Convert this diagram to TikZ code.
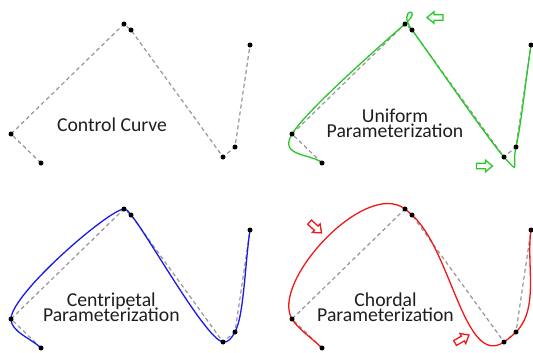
\documentclass[tikz,border=0pt]{standalone}
\usepackage{fontspec}
\setmainfont{Carlito}
\definecolor{cgreen}{RGB}{40,200,40}
\definecolor{cblue}{RGB}{25,25,235}
\definecolor{cred}{RGB}{240,25,25}
\definecolor{cgray}{RGB}{150,150,150}
\definecolor{ctext}{RGB}{30,30,30}
\newcommand\lblfont{\fontsize{19.7bp}{15bp}\selectfont\lineskiplimit-50pt\relax}
% control points (panel-relative, pixels), with reflected phantom end points
\def\PX{{71,41,11,124,131,223,235,250,265}}
\def\PY{{192,163,134,24,30,157,147,45,-57}}
\newcommand\panelpts[1]{%
  \foreach \k in {0,...,6}{%
    \pgfmathsetmacro\cx{\PX[\k+1]}%
    \pgfmathsetmacro\cy{\PY[\k+1]}%
    \coordinate (#1\k) at (\cx,\cy);}%
  \draw[ctrl] (#10) -- (#11) -- (#12) -- (#13) -- (#14) -- (#15) -- (#16);}
\newcommand\paneldots[1]{\foreach \k in {0,...,6}{\node[dot] (#1d\k) at (#1\k) {};}}
\newcommand\crcurve[2]{% #1 alpha, #2 style
  \foreach \i in {1,...,6}{%
    \pgfmathsetmacro\xa{\PX[\i-1]}\pgfmathsetmacro\ya{\PY[\i-1]}%
    \pgfmathsetmacro\xb{\PX[\i]}\pgfmathsetmacro\yb{\PY[\i]}%
    \pgfmathsetmacro\xc{\PX[\i+1]}\pgfmathsetmacro\yc{\PY[\i+1]}%
    \pgfmathsetmacro\xd{\PX[\i+2]}\pgfmathsetmacro\yd{\PY[\i+2]}%
    \pgfmathsetmacro\da{pow(veclen((\xb)-(\xa),(\yb)-(\ya)),#1)}%
    \pgfmathsetmacro\db{pow(veclen((\xc)-(\xb),(\yc)-(\yb)),#1)}%
    \pgfmathsetmacro\dc{pow(veclen((\xd)-(\xc),(\yd)-(\yc)),#1)}%
    \pgfmathsetmacro\ux{((\xb)-(\xa))/\da-((\xc)-(\xa))/(\da+\db)+((\xc)-(\xb))/\db}%
    \pgfmathsetmacro\uy{((\yb)-(\ya))/\da-((\yc)-(\ya))/(\da+\db)+((\yc)-(\yb))/\db}%
    \pgfmathsetmacro\vx{((\xc)-(\xb))/\db-((\xd)-(\xb))/(\db+\dc)+((\xd)-(\xc))/\dc}%
    \pgfmathsetmacro\vy{((\yc)-(\yb))/\db-((\yd)-(\yb))/(\db+\dc)+((\yd)-(\yc))/\dc}%
    \pgfmathsetmacro\bax{\xb+\ux*\db/3}\pgfmathsetmacro\bay{\yb+\uy*\db/3}%
    \pgfmathsetmacro\bbx{\xc-\vx*\db/3}\pgfmathsetmacro\bby{\yc-\vy*\db/3}%
    \draw[#2] (\xb,\yb) .. controls (\bax,\bay) and (\bbx,\bby) .. (\xc,\yc);}}
\newcommand\blockarrow[4]{%
  \draw[blockarrow, draw=#1, shift={(#2,#3)}, rotate=#4]
    (-8,-2.8) -- (1,-2.8) -- (1,-5.8) -- (8,0) -- (1,5.8) -- (1,2.8) -- (-8,2.8) -- cycle;}
\begin{document}
\begin{tikzpicture}[x=1bp,y=-1bp,
  ctrl/.style={draw=cgray, line width=1.2bp, dash pattern=on 4bp off 3bp},
  curve/.style={line width=1.3bp, line cap=round},
  dot/.style={circle, fill=black, inner sep=0pt, minimum size=5bp},
  lbl/.style={font={\lblfont}, text=ctext, inner sep=0pt, anchor=base, align=center},
  blockarrow/.style={line width=1.3bp, line join=miter}]
\useasboundingbox (0,0) rectangle (533,352);
% panel 1: control curve
\begin{scope}
  \panelpts{a}
  \paneldots{a}
\end{scope}
% panel 2: uniform
\begin{scope}[shift={(281,0)}]
  \panelpts{b}
  \crcurve{0}{curve, cgreen}
  \paneldots{b}
\end{scope}
% panel 3: centripetal
\begin{scope}[shift={(0,185)}]
  \panelpts{c}
  \crcurve{0.5}{curve, cblue}
  \paneldots{c}
\end{scope}
% panel 4: chordal
\begin{scope}[shift={(281,185)}]
  \panelpts{d}
  \crcurve{1}{curve, cred}
  \paneldots{d}
\end{scope}
% labels (base anchor = baseline of the last line)
\node[lbl] (t1) at (112,131.7) {Control Curve};
\node[lbl] (t2) at (395,137.6) {Uniform\\Parameterization};
\node[lbl] (t3) at (111.3,321.7) {Centripetal\\Parameterization};
\node[lbl] (t4) at (385.5,321.7) {Chordal\\Parameterization};
% hint arrows
\blockarrow{cgreen}{435}{17.5}{180}
\blockarrow{cgreen}{484.5}{166}{0}
\blockarrow{cred}{315.5}{227.5}{-42}
\blockarrow{cred}{462}{339}{30}
\end{tikzpicture}
\end{document}
